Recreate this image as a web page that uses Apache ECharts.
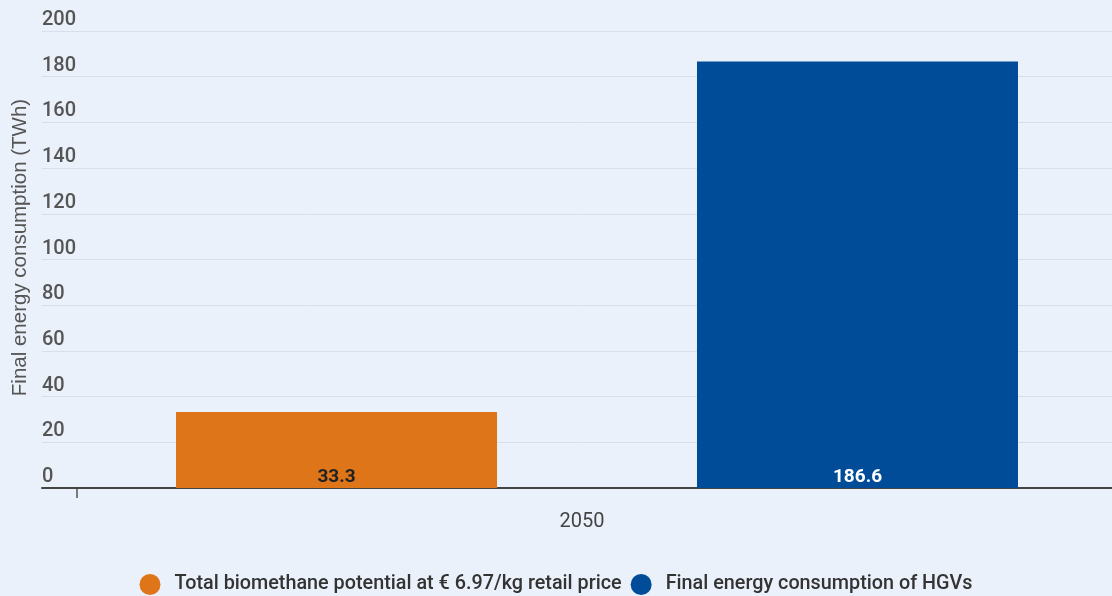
<!DOCTYPE html>
<html lang="en">
<head>
    <meta charset="UTF-8">
    <title>Biomethane vs HGV energy</title>
    <script type="text/javascript" src="https://cdn.jsdelivr.net/npm/echarts@6/dist/echarts.min.js"></script>
    <style>
        html, body { margin: 0; padding: 0; background: #ebf1fa; }
        #chart { width: 1112px; height: 596px; }
    </style>
</head>
<body>
<div id="chart"></div>
<script>
    var years = ['2050'];
    var seriesNames = ['Total biomethane potential at € 6.97/kg retail price', 'Final energy consumption of HGVs'];
    var biomethane = [33.3];
    var hgvConsumption = [186.6];
    var yTicks = [0, 20, 40, 60, 80, 100, 120, 140, 160, 180, 200];

    var mychart = echarts.init(document.getElementById('chart'));
    var option = {
        backgroundColor: '#ebf1fa',
        textStyle: { fontFamily: 'Roboto' },
        grid: { left: 42, width: 1110, top: 31, bottom: 108, outerBoundsMode: 'none', containLabel: false },
        legend: {
            bottom: -4,
            left: 'center',
            icon: 'circle',
            itemWidth: 21,
            itemHeight: 21,
            itemGap: 9,
            textStyle: { fontSize: 19.8, fontWeight: 500, color: '#333', padding: [0, 0, 0, 9] },
            data: seriesNames
        },
        xAxis: {
            type: 'category',
            data: years,
            axisLine: { lineStyle: { color: '#444', width: 2 } },
            axisTick: { show: false },
            axisLabel: { fontSize: 20, color: '#444', margin: 24, padding: [0, 30, 0, 0] }
        },
        yAxis: {
            type: 'value',
            min: yTicks[0],
            max: yTicks[yTicks.length - 1],
            interval: yTicks[1] - yTicks[0],
            name: 'Final energy consumption (TWh)',
            nameLocation: 'middle',
            nameGap: 10,
            nameTextStyle: { fontSize: 20.5, color: '#555', fontFamily: 'Liberation Sans', padding: [0, 0, 0, 24] },
            axisLine: { show: false },
            axisTick: { show: false },
            axisLabel: {
                inside: true,
                margin: 0,
                fontSize: 20,
                fontWeight: 500,
                color: '#555',
                verticalAlign: 'bottom',
                padding: [0, 0, 1, 0]
            },
            splitLine: { lineStyle: { color: '#d9dfe8', width: 1 } }
        },
        graphic: [{
            type: 'line',
            shape: { x1: 77, y1: 489, x2: 77, y2: 498 },
            style: { stroke: '#555', lineWidth: 1.5 }
        }],
        series: [{
            name: seriesNames[0],
            type: 'bar',
            data: biomethane,
            barWidth: 321,
            barGap: '62.3%',
            itemStyle: { color: '#de7619' },
            label: {
                show: true,
                position: 'insideBottom',
                distance: 1,
                fontSize: 19,
                fontWeight: 'bold',
                color: '#222'
            }
        }, {
            name: seriesNames[1],
            type: 'bar',
            data: hgvConsumption,
            barWidth: 321,
            itemStyle: { color: '#004c99' },
            label: {
                show: true,
                position: 'insideBottom',
                distance: 1,
                fontSize: 19,
                fontWeight: 'bold',
                color: '#fff'
            }
        }]
    };
    mychart.setOption(option);
</script>
</body>
</html>
